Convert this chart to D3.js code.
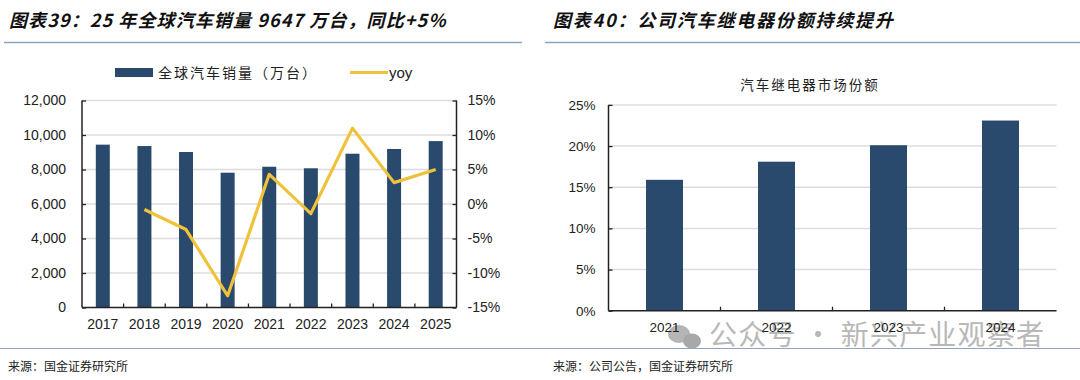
<!DOCTYPE html>
<html><head><meta charset="utf-8">
<script src="https://cdn.jsdelivr.net/npm/d3@7"></script>
<style>
body{margin:0;background:#fff;}
text{font-family:"Liberation Sans",Arial,sans-serif;}
.cjk{font-family:"Noto Sans CJK SC",sans-serif;}
</style></head><body>
<svg id="c" width="1080" height="380"></svg>
<script>
// Left chart data
const years1 = ["2017","2018","2019","2020","2021","2022","2023","2024","2025"];
const sales = [9440, 9360, 9015, 7815, 8160, 8070, 8915, 9190, 9647];
const yoy = [null, -0.8, -3.7, -13.3, 4.3, -1.4, 11.0, 3.1, 5.0];
const leftTicks = [0, 2000, 4000, 6000, 8000, 10000, 12000];
const rightTicks = [-15, -10, -5, 0, 5, 10, 15];
// Right chart data
const years2 = ["2021","2022","2023","2024"];
const share = [15.9, 18.1, 20.1, 23.1];
const shareTicks = [0, 5, 10, 15, 20, 25];

const BAR = "#2a4a6d", LINE = "#f0c23b", GRID = "#dcdcdc", AX = "#222";
const svg = d3.select("#c");

// Titles
function title(x, t, ls){
  svg.append("text").attr("class","cjk").attr("x",x).attr("y",27)
    .attr("font-size",18).attr("font-weight","bold").attr("font-style","italic")
    .attr("letter-spacing",ls).attr("fill","#111").text(t);
}
title(9, "图表39：25 年全球汽车销量 9647 万台，同比+5%", 1.1);
title(553, "图表40：公司汽车继电器份额持续提升", 1.8);
svg.append("line").attr("x1",4).attr("x2",522).attr("y1",42.5).attr("y2",42.5).attr("stroke","#8fa3c0").attr("stroke-width",1.5);
svg.append("line").attr("x1",545).attr("x2",1080).attr("y1",42.5).attr("y2",42.5).attr("stroke","#8fa3c0").attr("stroke-width",1.5);
svg.append("line").attr("x1",0).attr("x2",1080).attr("y1",348.5).attr("y2",348.5).attr("stroke","#8fa3c0").attr("stroke-width",1);
svg.append("text").attr("class","cjk").attr("x",8).attr("y",371).attr("font-size",12).attr("fill","#222").text("来源：国金证券研究所");
svg.append("text").attr("class","cjk").attr("x",553).attr("y",371).attr("font-size",12).attr("fill","#222").text("来源：公司公告，国金证券研究所");

// watermark (drawn beneath the chart text)
svg.append("ellipse").attr("cx",679).attr("cy",334).attr("rx",11).attr("ry",9).attr("fill","#b5b5b5");
svg.append("ellipse").attr("cx",692).attr("cy",341).attr("rx",9).attr("ry",7.5).attr("fill","#a8a8a8");
svg.append("text").attr("class","cjk").attr("x",709).attr("y",345).attr("font-size",28).attr("letter-spacing",1.2)
  .attr("fill","#b8b8b8").text("公众号 · 新兴产业观察者");

// ---- Left chart ----
const L = {x0:82, x1:456.5, y0:307.5, y1:100.5};
const x1 = d3.scaleBand().domain(years1).range([L.x0, L.x1]);
const yL = d3.scaleLinear().domain([0,12000]).range([L.y0, L.y1]);
const yR = d3.scaleLinear().domain([-15,15]).range([L.y0, L.y1]);
const g1 = svg.append("g");
g1.selectAll(".gl").data(leftTicks.slice(1)).join("line")
  .attr("x1",L.x0).attr("x2",L.x1).attr("y1",d=>yL(d)).attr("y2",d=>yL(d))
  .attr("stroke",GRID).attr("stroke-width",1.5);
const bw1 = 14;
g1.selectAll(".b").data(sales).join("rect")
  .attr("x",(d,i)=>x1(years1[i])+x1.bandwidth()/2-bw1/2).attr("width",bw1)
  .attr("y",d=>yL(d)).attr("height",d=>L.y0-yL(d)).attr("fill",BAR);
const lineGen = d3.line().defined(d=>d[1]!=null)
  .x(d=>x1(d[0])+x1.bandwidth()/2).y(d=>yR(d[1]));
g1.append("path").datum(years1.map((y,i)=>[y,yoy[i]])).attr("d",lineGen)
  .attr("fill","none").attr("stroke",LINE).attr("stroke-width",3.2).attr("stroke-linejoin","round");
// axes
const axL = d3.axisLeft(yL).tickValues(leftTicks).tickSize(-4).tickPadding(16).tickFormat(d3.format(","));
const gL = g1.append("g").attr("transform",`translate(${L.x0},0)`).call(axL);
const axR = d3.axisRight(yR).tickValues(rightTicks).tickSize(-4).tickPadding(11).tickFormat(d=>d+"%");
const gR = g1.append("g").attr("transform",`translate(${L.x1},0)`).call(axR);
const axB = d3.axisBottom(x1).tickSize(0).tickPadding(12);
const gB = g1.append("g").attr("transform",`translate(0,${L.y0})`).call(axB);
g1.selectAll(".bt").data(years1.slice(1)).join("line")
  .attr("x1",d=>x1(d)).attr("x2",d=>x1(d)).attr("y1",L.y0).attr("y2",L.y0-4).attr("stroke",AX).attr("stroke-width",1.3);
[gL,gR,gB].forEach(g=>{
  g.select(".domain").attr("stroke",AX).attr("stroke-width",1.5);
  g.selectAll(".tick line").attr("stroke",AX).attr("stroke-width",1.3);
  g.selectAll("text").attr("font-size",14).attr("fill","#222").attr("font-family","Liberation Sans, Arial, sans-serif");
});
gL.select(".domain").attr("d",`M0,${L.y1}V${L.y0}`);
gR.select(".domain").attr("d",`M0,${L.y1}V${L.y0}`);
gB.select(".domain").attr("d",`M${L.x0},0H${L.x1}`);
// legend
svg.append("rect").attr("x",115).attr("y",68).attr("width",38).attr("height",9).attr("fill",BAR);
svg.append("text").attr("class","cjk").attr("x",158).attr("y",78).attr("font-size",14).attr("letter-spacing",2).attr("fill","#222").text("全球汽车销量（万台）");
svg.append("line").attr("x1",350).attr("x2",388).attr("y1",72.5).attr("y2",72.5).attr("stroke",LINE).attr("stroke-width",3.2);
svg.append("text").attr("x",389).attr("y",78).attr("font-size",15).attr("fill","#222").text("yoy");

// ---- Right chart ----
const R = {x0:608.5, x1:1056.5, y0:310.7, y1:104.9};
const x2 = d3.scaleBand().domain(years2).range([R.x0, R.x1]);
const y2 = d3.scaleLinear().domain([0,25]).range([R.y0, R.y1]);
const g2 = svg.append("g");
g2.append("text").attr("class","cjk").attr("x",810).attr("y",90).attr("text-anchor","middle")
  .attr("font-size",13.5).attr("letter-spacing",2).attr("fill","#222").text("汽车继电器市场份额");
g2.selectAll(".gl").data(shareTicks.slice(1)).join("line")
  .attr("x1",R.x0).attr("x2",R.x1).attr("y1",d=>y2(d)).attr("y2",d=>y2(d))
  .attr("stroke",GRID).attr("stroke-width",1.5);
const bw2 = 37;
g2.selectAll(".b").data(share).join("rect")
  .attr("x",(d,i)=>x2(years2[i])+x2.bandwidth()/2-bw2/2).attr("width",bw2)
  .attr("y",d=>y2(d)).attr("height",d=>R.y0-y2(d)).attr("fill",BAR);
const ax2 = d3.axisLeft(y2).tickValues(shareTicks).tickSize(-4).tickPadding(13).tickFormat(d=>d+"%");
const gy2 = g2.append("g").attr("transform",`translate(${R.x0},0)`).call(ax2);
const gx2 = g2.append("g").attr("transform",`translate(0,${R.y0})`).call(d3.axisBottom(x2).tickSize(0).tickPadding(12));
g2.selectAll(".bt").data(years2.slice(1)).join("line")
  .attr("x1",d=>x2(d)).attr("x2",d=>x2(d)).attr("y1",R.y0).attr("y2",R.y0-4).attr("stroke",AX).attr("stroke-width",1.3);
[gy2,gx2].forEach(g=>{
  g.select(".domain").attr("stroke",AX).attr("stroke-width",1.5);
  g.selectAll(".tick line").attr("stroke",AX).attr("stroke-width",1.3);
  g.selectAll("text").attr("font-size",13.5).attr("fill","#222").attr("font-family","Liberation Sans, Arial, sans-serif");
});
gy2.select(".domain").attr("d",`M0,${R.y1}V${R.y0}`);
gx2.select(".domain").attr("d",`M${R.x0},0H${R.x1}`);
</script></body></html>
